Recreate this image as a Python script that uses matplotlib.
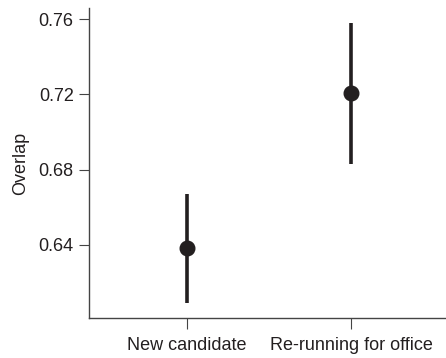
import matplotlib
matplotlib.use("Agg")
import matplotlib.pyplot as plt
import numpy as np

plt.rcParams['font.family'] = ['Liberation Sans', 'DejaVu Sans']

categories = ["New candidate", "Re-running for office"]
means = [0.638, 0.721]
lower = [0.609, 0.683]
upper = [0.667, 0.758]
yticks = [0.64, 0.68, 0.72, 0.76]

fs = 13

fig = plt.figure(figsize=(4.46, 3.58), dpi=100)
ax = fig.add_axes([0.1996, 0.1117, 0.798, 0.866])

x = np.arange(len(categories))
col = '#231f20'
ax.vlines(x, lower, upper, color=col, linewidth=2.6)
ax.plot(x, means, 'o', color=col, markersize=10.5)

ax.set_xlim(-0.598, 1.573)
ax.set_ylim(0.601, 0.766)
ax.set_xticks(x)
ax.set_xticklabels(categories, fontsize=fs, color=col)
ax.set_yticks(yticks)
ax.set_yticklabels(["%.2f" % v for v in yticks], fontsize=fs, color=col)
ax.set_ylabel("Overlap", fontsize=fs, labelpad=7, color=col)

for s in ['top', 'right']:
    ax.spines[s].set_visible(False)
for s in ['left', 'bottom']:
    ax.spines[s].set_color('#444444')
    ax.spines[s].set_linewidth(1.0)
ax.tick_params(direction='out', length=7, width=0.8, color='#444444', pad=4)
ax.tick_params(axis='x', length=8, pad=6)

fig.savefig("out.png", dpi=100)
plt.close(fig)
